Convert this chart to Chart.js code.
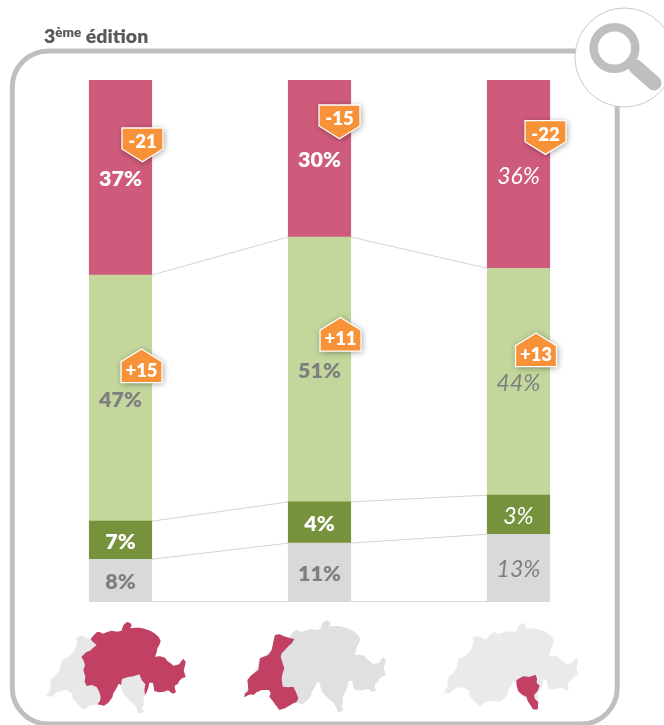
<!DOCTYPE html>
<html>
<head>
<meta charset="utf-8">
<title>3ème édition</title>
<script src="https://cdn.jsdelivr.net/npm/chart.js@4/dist/chart.umd.min.js"></script>
<style>
    html, body { margin: 0; padding: 0; background: #fff; }
    #wrap { position: relative; width: 664px; height: 725px; overflow: hidden; }
    #title { position: absolute; left: 44px; top: 25px; font: 800 19.5px Lato, sans-serif; color: #595959; white-space: nowrap; line-height: 22px; }
    #title sup { font-size: 13.5px; line-height: 0; vertical-align: 6px; }
</style>
</head>
<body>
<div id="wrap">
    <canvas id="chart" width="664" height="725"></canvas>
    <div id="title">3<sup>ème</sup> édition</div>
</div>
<script>
const categories = ['Suisse alémanique', 'Suisse romande', 'Tessin'];

// bar heights, bottom to top (they do not always agree with the printed labels)
const greyValues = [8.1, 11.2, 12.9];
const darkGreenValues = [7.3, 7.9, 7.5];
const lightGreenValues = [47.2, 50.8, 43.5];
const pinkValues = [37.4, 30.1, 36.1];

const greyLabels = ['8%', '11%', '13%'];
const darkGreenLabels = ['7%', '4%', '3%'];
const lightGreenLabels = ['47%', '51%', '44%'];
const pinkLabels = ['37%', '30%', '36%'];

const downBadges = ['-21', '-15', '-22'];
const upBadges = ['+15', '+11', '+13'];

// where the badges sit: left edge and top of each one
const downBadgeAt = [[122, 128], [319, 105], [525, 120.7]];
const upBadgeAt = [[121, 349], [320, 317.5], [515.5, 333]];

// map outlines at 3x
const swissOutline = [[152,72],[160,62],[170,52],[178,50],[188,56],[200,52],[215,47],[232,50],[245,47],[248,36],[252,28],[262,21],[272,25],[275,32],[270,40],[285,38],[300,38],[318,43],[332,48],[345,56],[356,66],[362,78],[358,90],[352,100],[350,112],[345,125],[360,124],[375,128],[382,138],[392,145],[400,152],[410,150],[418,148],[424,138],[430,132],[437,140],[435,152],[431,165],[434,176],[437,186],[426,190],[418,197],[414,206],[404,212],[405,222],[408,232],[398,236],[390,230],[384,226],[372,230],[358,232],[343,228],[341,214],[338,203],[328,203],[325,218],[320,232],[315,240],[310,252],[312,268],[306,280],[313,290],[305,295],[295,295],[290,280],[284,270],[272,260],[260,247],[250,236],[245,222],[243,210],[236,206],[228,222],[220,235],[217,247],[205,263],[192,272],[172,268],[160,270],[148,272],[136,283],[128,283],[115,270],[105,258],[97,250],[98,238],[92,232],[78,225],[62,227],[50,232],[42,240],[35,246],[18,241],[26,232],[32,222],[30,205],[36,190],[50,178],[60,162],[62,148],[66,135],[85,125],[100,112],[108,95],[112,82],[108,70],[118,62],[130,64],[142,70]];
const germanPart = [[152,72],[160,62],[170,52],[178,50],[188,56],[200,52],[215,47],[232,50],[245,47],[248,36],[252,28],[262,21],[272,25],[275,32],[270,40],[285,38],[300,38],[318,43],[332,48],[345,56],[356,66],[362,78],[358,90],[352,100],[350,112],[345,125],[360,124],[375,128],[382,138],[392,145],[400,152],[410,150],[418,148],[424,138],[430,132],[437,140],[435,152],[431,165],[434,176],[437,186],[426,190],[418,197],[414,206],[404,212],[405,222],[408,232],[398,236],[390,230],[384,226],[372,230],[358,232],[343,228],[341,214],[338,203],[328,203],[325,218],[320,232],[315,240],[313,225],[316,208],[305,195],[298,178],[280,184],[262,187],[246,192],[243,210],[236,206],[228,222],[220,235],[217,247],[205,263],[192,272],[172,268],[180,258],[182,245],[178,232],[170,216],[155,210],[140,213],[134,200],[136,185],[130,165],[135,150],[130,135],[124,126],[138,112],[150,107],[158,100],[170,90],[158,80]];
const romandPart = [[105,60],[118,58],[132,64],[145,68],[163,72],[156,84],[145,94],[135,105],[125,115],[122,125],[125,135],[133,160],[128,175],[125,190],[128,215],[145,217],[160,215],[168,232],[175,250],[170,260],[155,268],[135,280],[118,285],[105,268],[100,260],[88,245],[92,235],[88,225],[65,225],[50,232],[40,240],[30,238],[12,247],[15,236],[25,228],[24,210],[22,195],[35,180],[55,165],[58,145],[60,130],[85,120],[95,105],[100,80]];
const ticinoPart = [[229,196],[240,189],[250,184],[268,186],[286,179],[291,190],[290,204],[299,212],[293,228],[282,241],[285,252],[295,262],[294,275],[292,284],[279,283],[271,270],[263,258],[260,246],[246,239],[235,229],[230,212]];

const maps = [
    { left: 40, sx: 1, dx: 0, sy: 1, dy: 0, grey: '#e8e8e8', part: germanPart },
    { left: 240, sx: 1.02, dx: -8.4, sy: 1, dy: -5, grey: '#e0e0e0', part: romandPart },
    { left: 440, sx: 0.966, dx: -7.3, sy: 0.945, dy: 4, grey: '#eaeaea', part: ticinoPart }
];

function polygon(ctx, points, fn) {
    ctx.beginPath();
    points.forEach((p, i) => {
        const q = fn(p);
        if (i === 0) ctx.moveTo(q[0], q[1]);
        else ctx.lineTo(q[0], q[1]);
    });
    ctx.closePath();
}

function drawFrame(ctx) {
    ctx.save();
    ctx.strokeStyle = '#bfbfbf';
    ctx.lineWidth = 5;
    ctx.beginPath();
    ctx.roundRect(12.3, 51, 604.9, 673, 36);
    ctx.stroke();

    // magnifier
    ctx.fillStyle = '#fff';
    ctx.strokeStyle = '#c8c8c8';
    ctx.lineWidth = 1;
    ctx.beginPath();
    ctx.arc(624.5, 57.5, 49.5, 0, Math.PI * 2);
    ctx.fill();
    ctx.stroke();
    ctx.strokeStyle = '#bfbfbf';
    ctx.lineWidth = 8.5;
    ctx.beginPath();
    ctx.arc(614.5, 48, 20.8, 0, Math.PI * 2);
    ctx.stroke();
    ctx.lineWidth = 15;
    ctx.lineCap = 'round';
    ctx.beginPath();
    ctx.moveTo(636, 67);
    ctx.lineTo(654, 83);
    ctx.stroke();
    ctx.restore();
}

function drawMaps(ctx) {
    ctx.save();
    ctx.filter = 'blur(0.5px)';
    maps.forEach(m => {
        const base = p => [m.left + (p[0] * m.sx + m.dx) / 3, 615 + (p[1] * m.sy + m.dy) / 3];
        const own = m.part === germanPart ? base : p => [m.left + p[0] / 3, 615 + p[1] / 3];
        ctx.fillStyle = m.grey;
        polygon(ctx, swissOutline, base);
        ctx.fill();
        ctx.fillStyle = '#c14064';
        polygon(ctx, m.part, own);
        ctx.fill();
    });
    ctx.restore();
}

function drawBadge(ctx, text, at, down) {
    const x = at[0], y = at[1], w = 41, h = 33.7, s = 21;
    ctx.save();
    ctx.beginPath();
    if (down) {
        ctx.moveTo(x, y);
        ctx.lineTo(x + w, y);
        ctx.lineTo(x + w, y + s);
        ctx.lineTo(x + w / 2, y + h);
        ctx.lineTo(x, y + s);
    } else {
        ctx.moveTo(x + w / 2, y);
        ctx.lineTo(x + w, y + h - s);
        ctx.lineTo(x + w, y + h);
        ctx.lineTo(x, y + h);
        ctx.lineTo(x, y + h - s);
    }
    ctx.closePath();
    ctx.shadowColor = 'rgba(0,0,0,0.4)';
    ctx.shadowBlur = 6;
    ctx.shadowOffsetX = 1;
    ctx.shadowOffsetY = 1;
    ctx.fillStyle = '#f79239';
    ctx.fill();
    ctx.shadowColor = 'transparent';
    ctx.strokeStyle = '#fff';
    ctx.lineWidth = 1.3;
    ctx.stroke();
    ctx.fillStyle = '#fff';
    ctx.font = '800 18.5px Lato, sans-serif';
    ctx.textAlign = 'center';
    ctx.textBaseline = 'middle';
    ctx.fillText(text, x + w / 2, down ? y + 14 : y + h - 12);
    ctx.restore();
}

const extras = {
    id: 'extras',
    beforeDatasetsDraw(chart) {
        const ctx = chart.ctx;
        drawFrame(ctx);
        drawMaps(ctx);

        // thin lines joining the segments of neighbouring bars
        ctx.save();
        ctx.strokeStyle = '#d4d4d4';
        ctx.lineWidth = 1;
        [0, 1, 2].forEach(d => {
            const bars = chart.getDatasetMeta(d).data;
            for (let i = 0; i < bars.length - 1; i++) {
                ctx.beginPath();
                ctx.moveTo(bars[i].x + bars[i].width / 2, bars[i].y);
                ctx.lineTo(bars[i + 1].x - bars[i + 1].width / 2, bars[i + 1].y);
                ctx.stroke();
            }
        });
        ctx.restore();
    },
    afterDatasetsDraw(chart) {
        const ctx = chart.ctx;
        const bars0 = chart.getDatasetMeta(0).data;

        // baseline under the bars
        ctx.save();
        ctx.strokeStyle = '#d9d9d9';
        ctx.lineWidth = 1;
        ctx.beginPath();
        ctx.moveTo(bars0[0].x - bars0[0].width / 2, chart.scales.y.getPixelForValue(0));
        ctx.lineTo(bars0[2].x + bars0[2].width / 2, chart.scales.y.getPixelForValue(0));
        ctx.stroke();
        ctx.restore();

        // value labels, third column is in light italic
        chart.data.datasets.forEach((ds, d) => {
            chart.getDatasetMeta(d).data.forEach((bar, i) => {
                ctx.save();
                ctx.fillStyle = ds.labelColor;
                ctx.font = i === 2 ? 'italic 23px Lato, sans-serif' : '800 21.5px Lato, sans-serif';
                ctx.textAlign = 'center';
                ctx.textBaseline = 'middle';
                ctx.fillText(ds.labels[i], bar.x, (bar.y + bar.base) / 2 + 2);
                ctx.restore();
            });
        });

        downBadges.forEach((t, i) => drawBadge(ctx, t, downBadgeAt[i], true));
        upBadges.forEach((t, i) => drawBadge(ctx, t, upBadgeAt[i], false));
    }
};

const ctx = document.getElementById('chart').getContext('2d');
new Chart(ctx, {
    type: 'bar',
    data: {
        labels: categories,
        datasets: [
            { data: greyValues, backgroundColor: '#d9d9d9', labels: greyLabels, labelColor: '#7f7f7f' },
            { data: darkGreenValues, backgroundColor: '#76923c', labels: darkGreenLabels, labelColor: '#ffffff' },
            { data: lightGreenValues, backgroundColor: '#c3d69b', labels: lightGreenLabels, labelColor: '#7f7f7f' },
            { data: pinkValues, backgroundColor: '#cf5b7c', labels: pinkLabels, labelColor: '#ffffff' }
        ]
    },
    options: {
        responsive: false,
        animation: false,
        barThickness: 62.5,
        layout: { padding: { left: 21, right: 46, top: 80, bottom: 123.5 } },
        scales: {
            x: { stacked: true, display: false },
            y: { stacked: true, display: false, min: 0, max: 100 }
        },
        plugins: { legend: { display: false }, tooltip: { enabled: false } }
    },
    plugins: [extras]
});
</script>
</body>
</html>
